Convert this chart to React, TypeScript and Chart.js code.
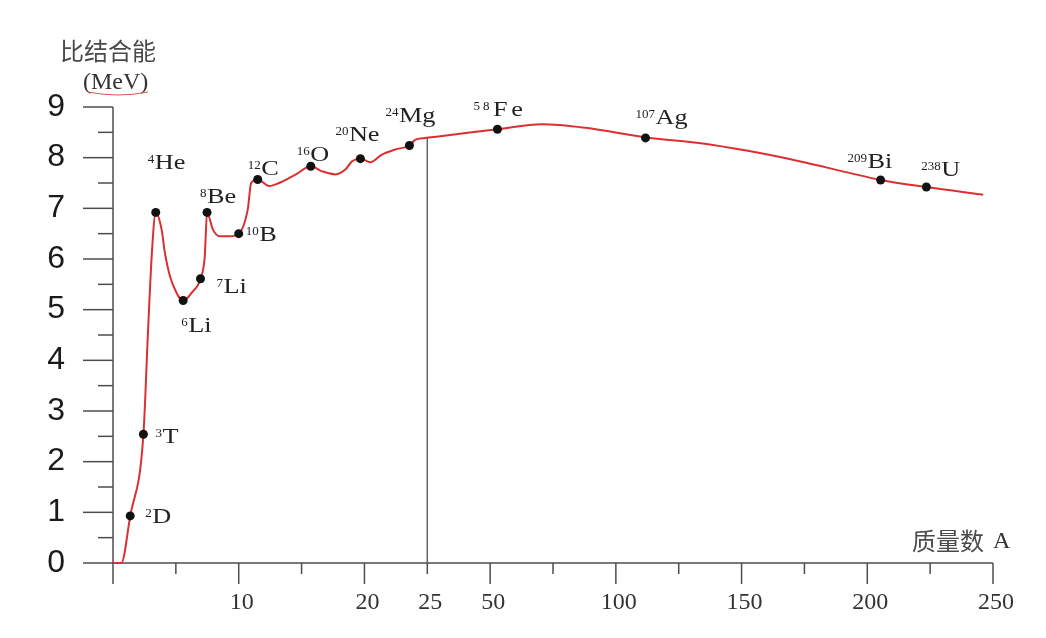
import React, { useEffect, useRef } from "react";
import { Chart, registerables } from "chart.js";

Chart.register(...registerables);

// Binding-energy curve: mass number A and MeV per nucleon
const curveA = [
  0, 0.66, 1.37, 2.42, 2.79, 3.11, 3.4, 3.87, 4.13, 4.53, 5.06, 5.3, 5.58, 5.88, 6.25, 6.96, 7.3, 7.48,
  7.95, 8.48, 9.27, 10.0, 10.72, 10.99, 11.51, 12.43, 13.22, 14.55, 15.73, 16.65, 17.71, 18.5,
  19.02, 19.68, 20.47, 21.39, 22.45, 23.58, 24.03, 24.82, 29.4, 52.9, 70.6, 87.9, 111.8, 133.1,
  153.0, 173.0, 192.9, 205.3, 223.5, 246.1,
];
const curveE = [
  0, 0, 0.93, 2.54, 4.6, 6.19, 6.92, 6.58, 6.12, 5.66, 5.33, 5.23, 5.18, 5.22, 5.33, 5.61, 6.05, 6.92,
  6.58, 6.45, 6.45, 6.5, 6.98, 7.5, 7.57, 7.44, 7.5, 7.67, 7.83, 7.73, 7.67, 7.77,
  7.93, 7.98, 7.91, 8.06, 8.16, 8.24, 8.35, 8.39, 8.42, 8.56, 8.66, 8.59, 8.4, 8.29,
  8.13, 7.93, 7.7, 7.56, 7.42, 7.27,
];

// Marked nuclides
const nuclideMass = ["2", "3", "4", "6", "7", "8", "10", "12", "16", "20", "24", "58", "107", "209", "238"];
const nuclideName = ["D", "T", "He", "Li", "Li", "Be", "B", "C", "O", "Ne", "Mg", "Fe", "Ag", "Bi", "U"];
const nuclideA = [1.37, 2.42, 3.4, 5.58, 6.96, 7.48, 10.0, 11.51, 15.73, 19.68, 23.58, 52.9, 111.8, 205.3, 223.5];
const nuclideE = [0.93, 2.54, 6.92, 5.18, 5.61, 6.92, 6.5, 7.57, 7.83, 7.98, 8.24, 8.56, 8.39, 7.56, 7.42];

// Axis ticks (x axis is broken at A = 25, compressed 5x beyond)
const xTickA = [0, 5, 10, 15, 20, 25, 50, 75, 100, 125, 150, 175, 200, 225, 250];
const xTickLabels = ["", "", "10", "", "20", "25", "50", "", "100", "", "150", "", "200", "", "250"];
const xMajorA = [0, 10, 20, 50, 100, 150, 200, 250];
const yMin = 0;
const yMax = 9;

const BREAK_A = 25;
const COMPRESS = 5;
const toU = (a: number) => (a <= BREAK_A ? a : BREAK_A + (a - BREAK_A) / COMPRESS);

// label placement (pixel offsets from each dot: left of superscript, baseline of name)
const labelOffsets: [number, number][] = [
  [15, 7], [12, 9], [-8, -43], [-2, 31], [16, 14], [-7, -9], [7, 7], [-10, -4],
  [-14, -5], [-25, -18], [-24, -24], [-24, -13], [-10, -14], [-33, -12], [-5, -11],
];

function curveAt(a: number) {
  for (let i = 1; i < curveA.length; i++) {
    if (a <= curveA[i]) {
      const t = (a - curveA[i - 1]) / (curveA[i] - curveA[i - 1]);
      return curveE[i - 1] + t * (curveE[i] - curveE[i - 1]);
    }
  }
  return curveE[curveE.length - 1];
}

export default function App() {
  const ref = useRef<HTMLCanvasElement>(null);

  useEffect(() => {
    const canvas = ref.current!;
    const serif = '"Liberation Serif", "Times New Roman", serif';
    const sans = '"Liberation Sans", Arial, sans-serif';
    const cjk = '"Noto Sans CJK SC", sans-serif';

    const decor = {
      id: "decor",
      beforeDatasetsDraw(chart: any) {
        const { ctx, scales } = chart;
        const x = scales.x;
        const y = scales.y;
        const line = (x1: number, y1: number, x2: number, y2: number) => {
          ctx.beginPath();
          ctx.moveTo(x1, y1);
          ctx.lineTo(x2, y2);
          ctx.stroke();
        };
        ctx.save();
        ctx.strokeStyle = "#4d4d4d";
        ctx.lineWidth = 1.5;
        const x0 = x.getPixelForValue(toU(0));
        const yTop = y.getPixelForValue(yMax);
        const yBot = y.getPixelForValue(yMin);
        line(x0, yTop, x0, yBot);
        for (let v = yMin; v <= yMax + 1e-9; v += 0.5) {
          const py = y.getPixelForValue(v);
          const len = Number.isInteger(v) ? 30 : 15;
          line(x0 - len, py, x0, py);
        }
        const xEnd = x.getPixelForValue(toU(250));
        line(x0, yBot, xEnd, yBot);
        xTickA.forEach((a) => {
          const px = x.getPixelForValue(toU(a));
          const len = xMajorA.includes(a) ? 21 : 11;
          line(px, yBot, px, yBot + len);
        });
        const pb = x.getPixelForValue(toU(BREAK_A));
        ctx.strokeStyle = "#666";
        line(pb, yBot, pb, y.getPixelForValue(curveAt(BREAK_A)));
        ctx.restore();
      },
      afterDatasetsDraw(chart: any) {
        const { ctx, scales } = chart;
        const x = scales.x;
        const y = scales.y;
        ctx.save();
        ctx.fillStyle = "#222";
        ctx.textBaseline = "alphabetic";
        ctx.textAlign = "left";
        nuclideA.forEach((a, i) => {
          const px = x.getPixelForValue(toU(a));
          const py = y.getPixelForValue(nuclideE[i]);
          const [dx, dy] = labelOffsets[i];
          const lx = px + dx;
          const ly = py + dy;
          const spaced = nuclideName[i] === "Fe";
          (ctx as any).letterSpacing = spaced ? "3px" : "0px";
          ctx.font = `13px ${serif}`;
          ctx.fillText(nuclideMass[i], lx, ly - 6);
          const sw = ctx.measureText(nuclideMass[i]).width;
          ctx.save();
          ctx.translate(lx + sw + 0.5, ly);
          ctx.scale(1.25, 1);
          ctx.font = `21px ${serif}`;
          ctx.fillText(nuclideName[i], 0, 0);
          ctx.restore();
        });
        (ctx as any).letterSpacing = "0px";

        // y axis title
        ctx.textBaseline = "middle";
        ctx.fillStyle = "#4a4a4a";
        ctx.font = `24px ${cjk}`;
        ctx.fillText("比结合能", 60, 51);
        ctx.fillStyle = "#333";
        ctx.font = `24px ${serif}`;
        ctx.fillText("(MeV)", 83, 83);
        ctx.strokeStyle = "#d9534f";
        ctx.lineWidth = 1;
        ctx.beginPath();
        ctx.moveTo(88, 92);
        ctx.quadraticCurveTo(118, 98, 148, 92);
        ctx.stroke();

        // x axis title
        ctx.fillStyle = "#4a4a4a";
        ctx.font = `24px ${cjk}`;
        ctx.fillText("质量数", 912, 541);
        ctx.fillStyle = "#333";
        ctx.font = `24px ${serif}`;
        ctx.fillText("A", 993, 542);
        ctx.restore();
      },
    };

    const chart = new Chart(canvas, {
      type: "scatter",
      data: {
        datasets: [
          {
            label: "nuclides",
            data: nuclideA.map((a, i) => ({ x: toU(a), y: nuclideE[i] })),
            pointRadius: 4.5,
            pointBackgroundColor: "#111",
            pointBorderWidth: 0,
            showLine: false,
            clip: false,
          } as any,
          {
            label: "curve",
            data: curveA.map((a, i) => ({ x: toU(a), y: curveE[i] })),
            showLine: true,
            borderColor: "#dc2f2f",
            borderWidth: 2,
            pointRadius: 0,
            cubicInterpolationMode: "monotone",
            clip: false,
            fill: false,
          } as any,
        ],
      },
      options: {
        animation: false,
        responsive: true,
        maintainAspectRatio: false,
        events: [],
        layout: { padding: { top: 107, right: 53, left: 0, bottom: 0 } },
        plugins: { legend: { display: false }, tooltip: { enabled: false } },
        scales: {
          x: {
            type: "linear",
            min: toU(0),
            max: toU(250),
            afterFit: (s: any) => {
              s.height = 75;
            },
            afterBuildTicks: (s: any) => {
              s.ticks = xTickA.map((a) => ({ value: toU(a) }));
            },
            grid: { display: false, drawTicks: false },
            border: { display: false },
            ticks: {
              autoSkip: false,
              maxRotation: 0,
              padding: 25,
              labelOffset: 3,
              color: "#333",
              font: { family: serif, size: 24 },
              callback: (v: any) => {
                const i = xTickA.findIndex((a) => Math.abs(toU(a) - Number(v)) < 1e-6);
                return i >= 0 ? xTickLabels[i] : "";
              },
            },
          },
          y: {
            min: yMin,
            max: yMax,
            afterFit: (s: any) => {
              s.width = 113;
            },
            grid: { display: false, drawTicks: false },
            border: { display: false },
            ticks: {
              stepSize: 1,
              padding: 48,
              color: "#1a1a1a",
              font: { family: sans, size: 32 },
            },
          },
        },
      } as any,
      plugins: [decor],
    });
    return () => chart.destroy();
  }, []);

  return (
    <div style={{ position: "absolute", left: 0, top: 0, width: 1046, height: 638, background: "#fff" }}>
      <canvas ref={ref} />
    </div>
  );
}
